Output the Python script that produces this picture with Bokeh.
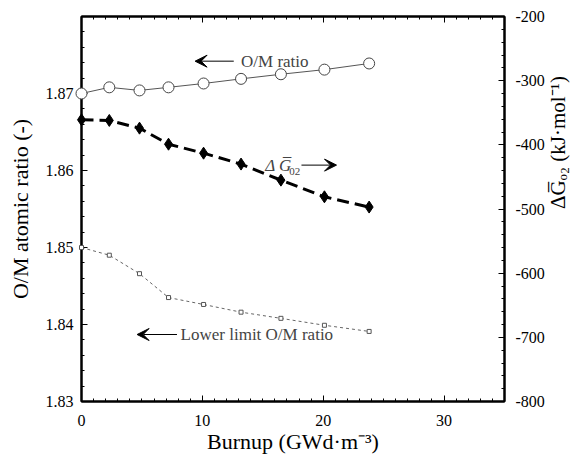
import math
from bokeh.plotting import figure
from bokeh.models import (LinearAxis, Range1d, Arrow, VeeHead, Label,
                          SingleIntervalTicker, NumeralTickFormatter, CustomJSTickFormatter)
from bokeh.embed import file_html
from bokeh.resources import INLINE

# ---- data ----
burnup = [0, 2.3, 4.8, 7.2, 10.1, 13.2, 16.5, 20.1, 23.8]
om_ratio = [1.8700, 1.8708, 1.8704, 1.8708, 1.8713, 1.8719, 1.8725, 1.8731, 1.8739]
dg_o2 = [-361, -362, -374, -399, -413, -430, -455, -481, -497]
om_lower = [1.8500, 1.8490, 1.8466, 1.8435, 1.8426, 1.8416, 1.8408, 1.8399, 1.8391]

x_ticks_interval = 10
left_ticks_interval = 0.01
right_ticks_interval = 100

FONT = "Liberation Serif"

p = figure(width=584, height=456, x_range=Range1d(0, 35), y_range=Range1d(1.83, 1.88),
           output_backend="svg", toolbar_location=None,
           min_border_left=81, min_border_right=74, min_border_top=16, min_border_bottom=52,
           x_axis_label="Burnup (GWd\u00b7m\u207b\u00b3)", y_axis_label="O/M atomic ratio (-)")
p.extra_y_ranges = {"dg": Range1d(-800, -200)}
p.xgrid.visible = False
p.ygrid.visible = False
p.outline_line_color = "black"
p.outline_line_width = 2
p.background_fill_color = "white"
p.border_fill_color = "white"


def style_axis(ax):
    ax.axis_line_width = 2
    ax.axis_line_color = "black"
    ax.major_tick_in = 6
    ax.major_tick_out = 0
    ax.minor_tick_in = 3
    ax.minor_tick_out = 0
    ax.major_tick_line_color = "black"
    ax.minor_tick_line_color = "black"
    ax.major_label_text_font = FONT
    ax.major_label_text_font_size = "16px"
    ax.major_label_text_color = "black"
    ax.axis_label_text_font = FONT
    ax.axis_label_text_font_size = "22px"
    ax.axis_label_text_font_style = "normal"
    ax.axis_label_text_color = "black"


xa = p.xaxis[0]
xa.ticker = SingleIntervalTicker(interval=x_ticks_interval, num_minor_ticks=10)
style_axis(xa)
xa.major_label_standoff = 13
xa.axis_label_standoff = 0
xa.axis_label_text_line_height = 0.9

ya = p.yaxis[0]
ya.ticker = SingleIntervalTicker(interval=left_ticks_interval, num_minor_ticks=5)
ya.formatter = NumeralTickFormatter(format="0.00")
style_axis(ya)
ya.major_label_standoff = 8
ya.axis_label_standoff = 10

ra = LinearAxis(y_range_name="dg",
                ticker=SingleIntervalTicker(interval=right_ticks_interval, num_minor_ticks=5),
                formatter=NumeralTickFormatter(format="0"),
                axis_label="\u0394G\u0305\u2092\u2082 (kJ\u00b7mol\u207b\u00b9)")
style_axis(ra)
ra.axis_label_text_font_size = "21px"
ra.axis_label_text_line_height = 0.8
ra.major_label_standoff = 11
ra.axis_label_standoff = 10
if "axis_label_orientation" in ra.properties():
    ra.axis_label_orientation = math.pi / 2
p.add_layout(ra, "right")

ta = LinearAxis(ticker=SingleIntervalTicker(interval=x_ticks_interval, num_minor_ticks=10),
                formatter=CustomJSTickFormatter(code="return ''"))
style_axis(ta)
ta.major_label_standoff = 0
ta.major_label_text_font_size = "1px"
p.add_layout(ta, "above")

# ---- series ----
p.line(burnup, om_ratio, line_color="#555555", line_width=1)
p.scatter(burnup, om_ratio, marker="circle", size=11, fill_color="white",
          line_color="#444444", line_width=1, level="overlay")

p.line(burnup, dg_o2, y_range_name="dg", line_color="black", line_width=3, line_dash="12 6")
p.scatter(burnup, dg_o2, y_range_name="dg", marker="diamond", size=12,
          fill_color="black", line_color="black", level="overlay")

p.line(burnup, om_lower, line_color="#666666", line_width=1, line_dash="3 3")
p.scatter(burnup, om_lower, marker="square", size=4, fill_color="white",
          line_color="#555555", line_width=1, level="overlay")

# ---- annotations ----
def arrow(x0, x1, y):
    p.add_layout(Arrow(end=VeeHead(size=12, fill_color="black", line_color="black"),
                       x_start=x0, y_start=y, x_end=x1, y_end=y,
                       line_color="black", line_width=1))

arrow(12.6, 9.4, 1.8742)
p.add_layout(Label(x=13.2, y=1.8742, text="O/M ratio", text_font=FONT,
                   text_font_size="17px", text_baseline="middle", text_align="left"))

arrow(18.2, 21.1, 1.8607)
p.add_layout(Label(x=15.2, y=1.8607, text="\u0394 G\u0305", text_font=FONT,
                   text_font_size="17px", text_font_style="italic",
                   text_baseline="middle", text_align="left"))
p.add_layout(Label(x=17.2, y=1.8599, text="02", text_font=FONT,
                   text_font_size="11px", text_baseline="middle", text_align="left"))

arrow(7.9, 4.6, 1.8387)
p.add_layout(Label(x=8.2, y=1.8387, text="Lower limit O/M ratio", text_font=FONT,
                   text_font_size="17px", text_baseline="middle", text_align="left"))

open("out.html", "w").write(file_html(p, INLINE))
